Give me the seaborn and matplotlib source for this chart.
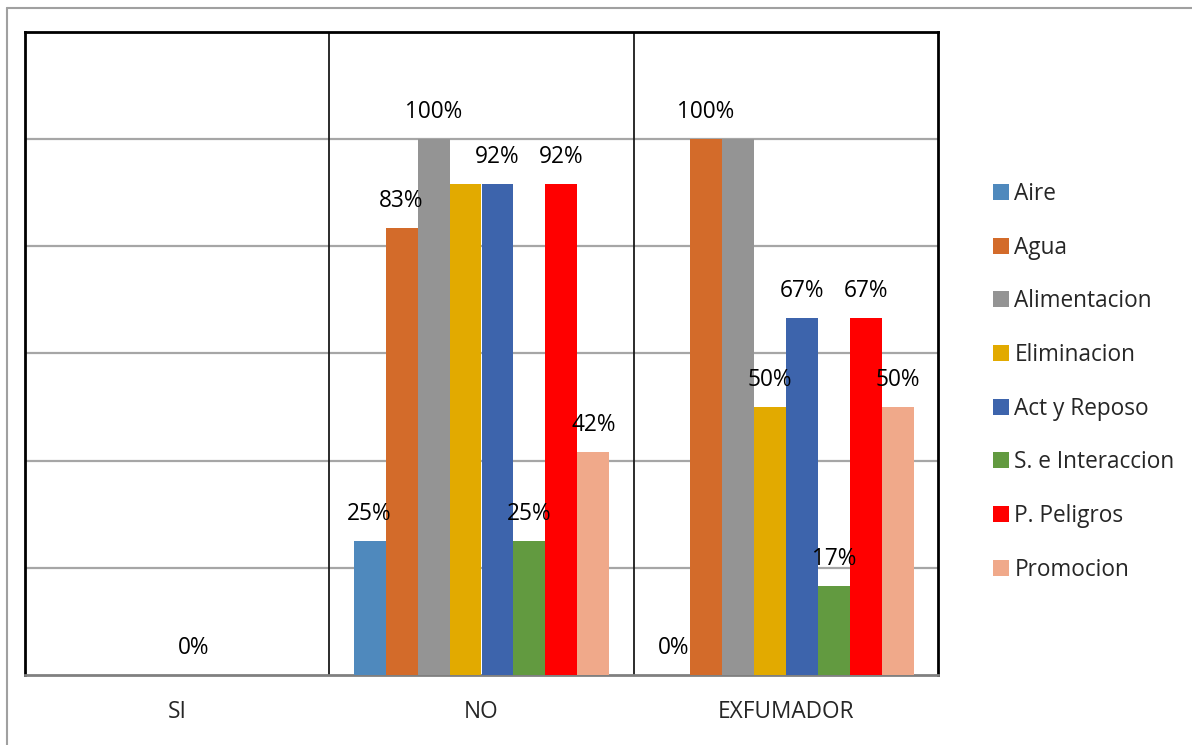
import numpy as np
import pandas as pd
import matplotlib
matplotlib.use("Agg")
import matplotlib.pyplot as plt
from matplotlib.lines import Line2D
import seaborn as sns

# Data: share of respondents per need, by smoking status
categories = ["SI", "NO", "EXFUMADOR"]
needs = ["Aire", "Agua", "Alimentacion", "Eliminacion", "Act y Reposo",
         "S. e Interaccion", "P. Peligros", "Promocion"]
values_si = [np.nan, np.nan, np.nan, np.nan, 0.0, np.nan, np.nan, np.nan]
values_no = [3 / 12, 10 / 12, 12 / 12, 11 / 12, 11 / 12, 3 / 12, 11 / 12, 5 / 12]
values_ex = [0.0, 6 / 6, 6 / 6, 3 / 6, 4 / 6, 1 / 6, 4 / 6, 3 / 6]
# which value labels are printed (some overlap and are left out)
shown_si = [False, False, False, False, True, False, False, False]
shown_no = [True, True, True, False, True, True, True, True]
shown_ex = [True, True, False, True, True, True, True, True]

colors = ["#4F89BD", "#D36B2A", "#949494", "#E2AA00", "#3D64AC",
          "#629A40", "#FF0000", "#F0A98A"]

series = {"SI": values_si, "NO": values_no, "EXFUMADOR": values_ex}
shown = {"SI": shown_si, "NO": shown_no, "EXFUMADOR": shown_ex}
df = pd.DataFrame(
    [(c, n, series[c][i], shown[c][i]) for c in categories for i, n in enumerate(needs)],
    columns=["grupo", "necesidad", "valor", "etiqueta"],
)

sns.set_theme(style="white")
plt.rcParams["font.family"] = ["Open Sans", "DejaVu Sans"]

FS = 16.3

fig = plt.figure(figsize=(11.92, 7.45), dpi=100)
ax = fig.add_axes([25 / 1192, 70 / 745, 913 / 1192, 643 / 745])

sns.barplot(data=df, x="grupo", y="valor", hue="necesidad", order=categories,
            hue_order=needs, palette=colors, width=0.84, saturation=1,
            linewidth=0, ax=ax, legend=False, errorbar=None, zorder=3)

ax.set_xlim(-0.5, 2.5)
ax.set_ylim(0, 1.2)
ax.set_yticks(np.arange(0.2, 1.2, 0.2))
ax.set_yticklabels([])
ax.tick_params(axis="y", length=0)
ax.grid(axis="y", color="#A6A6A6", linewidth=1.6, zorder=0)
ax.set_axisbelow(True)
for xv in (0.5, 1.5):
    ax.axvline(xv, color="#1a1a1a", linewidth=1.3, zorder=1)

ax.set_xlabel("")
ax.set_ylabel("")
ax.set_xticks([-0.5, 0.5, 1.5, 2.5], minor=False)
ax.set_xticklabels([])
ax.set_xticks([0, 1, 2], minor=True)
ax.set_xticklabels(categories, minor=True, fontsize=FS)
ax.tick_params(axis="x", which="major", length=8, width=1.3, color="#A0A0A0",
               direction="out")
ax.tick_params(axis="x", which="minor", length=0, pad=18)

for side in ("left", "top", "right"):
    ax.spines[side].set_color("#000000")
    ax.spines[side].set_linewidth(2.0)
ax.spines["bottom"].set_color("#808080")
ax.spines["bottom"].set_linewidth(2.0)

# Value labels above the bars
n_hue = len(needs)
bar_w = 0.84 / n_hue
for gi, c in enumerate(categories):
    for hi, n in enumerate(needs):
        v = series[c][hi]
        if np.isnan(v) or not shown[c][hi]:
            continue
        xc = gi - 0.42 + bar_w * (hi + 0.5)
        ax.annotate(f"{v * 100:.0f}%", (xc, v), xytext=(0, 19.5),
                    textcoords="offset points", ha="center", va="center",
                    fontsize=FS, color="#000000", zorder=5)

handles = [Line2D([], [], marker="s", linestyle="none", markersize=11,
                  markerfacecolor=col, markeredgewidth=0) for col in colors]
fig.legend(handles, needs, loc="upper left", bbox_to_anchor=(994 / 1192, 1 - 182 / 745),
           frameon=False, fontsize=FS, handlelength=0.6, handletextpad=0.3,
           labelspacing=1.31, borderaxespad=0, borderpad=0)

# Outer frame of the chart area
fig.add_artist(Line2D([7 / 1192, 7 / 1192], [0, 1 - 8 / 745], color="#A0A0A0",
                      linewidth=1.5, transform=fig.transFigure))
fig.add_artist(Line2D([7 / 1192, 1], [1 - 8 / 745, 1 - 8 / 745], color="#A0A0A0",
                      linewidth=1.5, transform=fig.transFigure))

fig.savefig("out.png", dpi=100)
